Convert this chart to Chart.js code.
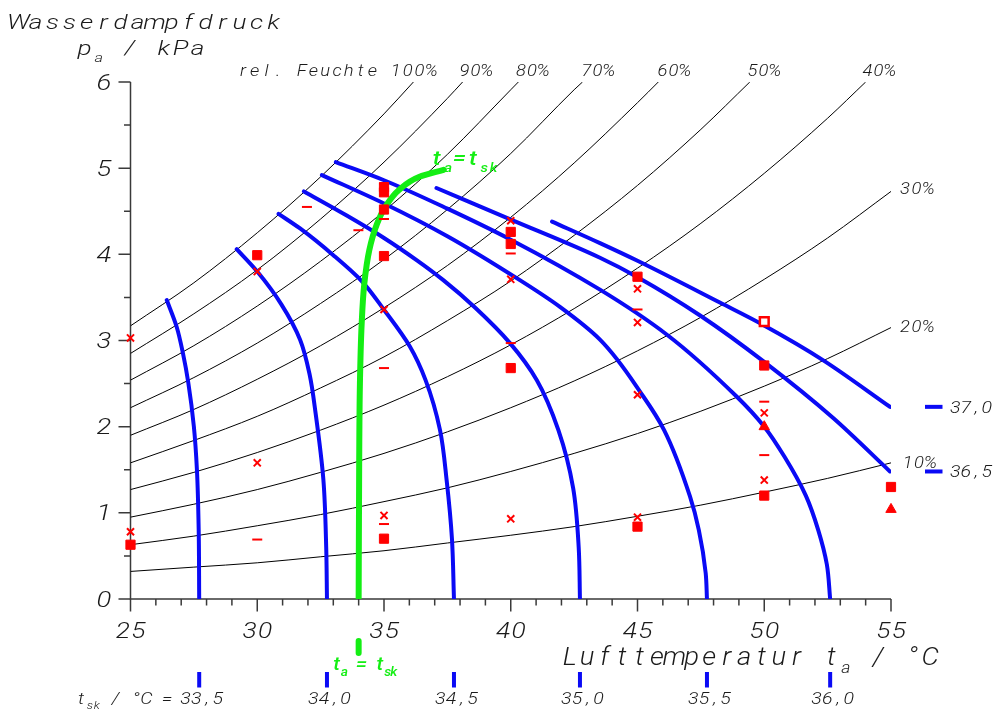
<!DOCTYPE html>
<html><head><meta charset="utf-8">
<script src="https://cdn.jsdelivr.net/npm/chart.js@4.4.1/dist/chart.umd.min.js"></script>
<style>html,body{margin:0;padding:0;background:#fff;}#wrap{width:994px;height:711px;}</style>
</head><body><div id="wrap"><canvas id="c" width="994" height="711"></canvas></div>
<script>
// ---------- relative humidity curves [t_a, p_a] ----------
const rhLabels = ['100%','90%','80%','70%','60%','50%','40%','30%','20%','10%'];
const rh100 = [[25,3.17],[27.5,3.67],[30,4.25],[32.5,4.90],[35,5.63],[36.16,6.0]];
const rh90  = [[25,2.85],[27.5,3.31],[30,3.82],[32.5,4.41],[35,5.07],[37.5,5.81],[38.1,6.0]];
const rh80  = [[25,2.54],[27.5,2.94],[30,3.40],[32.5,3.92],[35,4.50],[37.5,5.16],[40,5.91],[40.3,6.0]];
const rh70  = [[25,2.22],[27.5,2.57],[30,2.97],[32.5,3.43],[35,3.94],[37.5,4.52],[40,5.17],[42.5,5.91],[42.83,6.0]];
const rh60  = [[25,1.90],[27.5,2.20],[30,2.55],[32.5,2.94],[35,3.38],[37.5,3.87],[40,4.43],[42.5,5.06],[45,5.76],[45.82,6.0]];
const rh50  = [[25,1.58],[27.5,1.84],[30,2.12],[32.5,2.45],[35,2.81],[37.5,3.23],[40,3.69],[42.5,4.22],[45,4.80],[47.5,5.45],[49.43,6.0]];
const rh40  = [[25,1.27],[27.5,1.47],[30,1.70],[32.5,1.96],[35,2.25],[37.5,2.58],[40,2.95],[42.5,3.37],[45,3.84],[47.5,4.36],[50,4.94],[52.5,5.58],[54.0,6.0]];
const rh30  = [[25,0.95],[27.5,1.10],[30,1.27],[32.5,1.47],[35,1.69],[37.5,1.94],[40,2.22],[42.5,2.53],[45,2.88],[47.5,3.27],[50,3.71],[52.5,4.19],[55,4.73]];
const rh20  = [[25,0.63],[27.5,0.73],[30,0.85],[32.5,0.98],[35,1.13],[37.5,1.29],[40,1.48],[42.5,1.69],[45,1.92],[47.5,2.18],[50,2.47],[52.5,2.79],[55,3.15]];
const rh10  = [[25,0.32],[27.5,0.37],[30,0.42],[32.5,0.49],[35,0.56],[37.5,0.65],[40,0.74],[42.5,0.84],[45,0.96],[47.5,1.09],[50,1.24],[52.5,1.40],[55,1.58]];

// ---------- skin temperature isolines [t_a, p_a] ----------
const tskLabels = ['33,5','34,0','34,5','35,0','35,5','36,0','36,5','37,0'];
const tsk335 = [[26.43,3.47],[26.82,3.16],[27.07,2.85],[27.28,2.51],[27.50,2.00],[27.62,1.50],[27.69,0.80],[27.71,0]];
const tsk340 = [[29.19,4.06],[30.0,3.80],[30.95,3.42],[31.69,3.01],[32.07,2.60],[32.30,2.16],[32.61,1.38],[32.72,0.60],[32.75,0]];
const tsk345 = [[30.84,4.47],[31.69,4.30],[33.0,3.99],[34.12,3.69],[34.99,3.36],[36.02,2.93],[36.64,2.54],[37.21,1.96],[37.47,1.38],[37.68,0.70],[37.76,0]];
const tsk350 = [[31.84,4.73],[33.53,4.45],[35.0,4.19],[36.3,3.93],[37.34,3.70],[38.6,3.38],[39.97,2.97],[41.03,2.54],[41.88,1.96],[42.46,1.29],[42.68,0.60],[42.73,0]];
const tsk355 = [[32.55,4.92],[35.0,4.59],[37.5,4.21],[40.36,3.70],[41.94,3.39],[43.52,3.01],[45.23,2.35],[46.05,1.96],[47.07,1.19],[47.42,0.80],[47.69,0.30],[47.74,0]];
const tsk360 = [[33.1,5.07],[35.0,4.86],[37.5,4.53],[40.0,4.17],[43.52,3.59],[46.15,3.07],[48.91,2.35],[50.0,2.00],[50.80,1.65],[51.64,1.20],[52.13,0.80],[52.47,0.40],[52.6,0]];
const tsk365 = [[37.07,4.77],[40.03,4.40],[43.52,3.96],[44.97,3.74],[47.47,3.29],[49.96,2.76],[52.72,2.10],[54.96,1.48]];
const tsk370 = [[41.63,4.38],[43.52,4.13],[45.0,3.925],[48.25,3.44],[49.96,3.18],[52.33,2.77],[54.96,2.23]];

// ---------- t_a = t_sk line ----------
const equalLine = [[34.0,0],[34.02,1.5],[34.05,2.5],[34.12,3.2],[34.22,3.65],[34.42,4.05],[34.72,4.35],[35.05,4.55],[35.6,4.75],[36.4,4.9],[37.35,4.98]];

// ---------- measurements ----------
const squares = [[25,0.63],[30,3.99],[35,4.78],[35,4.72],[35,4.52],[35,3.98],[35,0.70],[40,4.26],[40,4.12],[40,2.68],[45,3.74],[45,0.84],[50,2.71],[50,1.20],[55,1.30]];
const crosses = [[25,3.03],[25,0.78],[30,3.80],[30,1.58],[35,3.36],[35,0.97],[40,4.39],[40,3.71],[40,0.93],[45,3.60],[45,3.21],[45,2.37],[45,0.95],[50,2.16],[50,1.38]];
const dashes  = [[30,0.69],[31.96,4.55],[33.99,4.28],[35,4.82],[35,4.41],[35,2.68],[35,0.87],[40,4.01],[40,2.97],[45,3.36],[50,2.29],[50,1.67]];
const triangles = [[50,2.00],[55,1.04]];
const openSquares = [[50,3.22]];

// ---------- axes ----------
const xTicks = [25,30,35,40,45,50,55];
const yTicks = [0,1,2,3,4,5,6];

const pts = a => a.map(([x,y]) => ({x, y}));
const FONT = 'Roboto';
const BLUE = '#0a0af5', GREEN = '#14ee14', RED = '#ff0000';

const datasets = [];
datasets.push({data: pts(squares), pointStyle:'rect', pointRadius:6.5, backgroundColor:RED, borderColor:RED, borderWidth:1, showLine:false, clip:false, order:0});
datasets.push({data: pts(openSquares), pointStyle:'rect', pointRadius:6.2, backgroundColor:'#ffffff', borderColor:RED, borderWidth:2.5, showLine:false, clip:false, order:0});
datasets.push({data: pts(crosses), pointStyle:'crossRot', pointRadius:5, borderColor:RED, borderWidth:2, showLine:false, clip:false, order:0});
datasets.push({data: pts(dashes), pointStyle:'line', pointRadius:5, borderColor:RED, borderWidth:2, showLine:false, clip:false, order:0});
datasets.push({data: pts(triangles), pointStyle:'triangle', pointRadius:6, backgroundColor:RED, borderColor:RED, borderWidth:1, showLine:false, clip:false, order:0});
datasets.push({data: pts(equalLine), indexAxis:'y', showLine:true, pointRadius:0, borderColor:GREEN, borderWidth:6, borderCapStyle:'round', cubicInterpolationMode:'monotone', order:1});
[tsk335,tsk340,tsk345,tsk350,tsk355,tsk360].forEach(c => datasets.push({data: pts(c), indexAxis:'y', showLine:true, pointRadius:0, borderColor:BLUE, borderWidth:4, borderCapStyle:'round', cubicInterpolationMode:'monotone', order:2}));
[tsk365,tsk370].forEach(c => datasets.push({data: pts(c), showLine:true, pointRadius:0, borderColor:BLUE, borderWidth:4, borderCapStyle:'round', cubicInterpolationMode:'monotone', order:2}));
[rh100,rh90,rh80,rh70,rh60,rh50,rh40,rh30,rh20,rh10].forEach(c => datasets.push({data: pts(c), showLine:true, pointRadius:0, borderColor:'#000000', borderWidth:1, cubicInterpolationMode:'monotone', order:3}));

// monospace-like italic text: each glyph centred in its own cell
function rich(ctx, segs, x, y, size, color, width, opts = {}) {
  const sx = opts.sx || 1.15, weight = opts.weight || 300, align = opts.align || 'left';
  const fN = `italic ${weight} ${size}px ${FONT}`;
  const fS = `italic ${weight} ${Math.round(size*0.64)}px ${FONT}`;
  const chars = [];
  segs.forEach(([t,s]) => { for (const ch of t) chars.push([ch, !!s]); });
  const units = chars.reduce((a,[ch,s]) => a + (s ? 0.68 : 1), 0);
  const pitch = width / units;
  let cx = align === 'center' ? x - width/2 : (align === 'right' ? x - width : x);
  ctx.fillStyle = color; ctx.textAlign = 'center'; ctx.textBaseline = 'alphabetic';
  chars.forEach(([ch,s]) => {
    const w = pitch * (s ? 0.68 : 1);
    ctx.save();
    ctx.translate(cx + w/2, s ? y + size*0.32 : y);
    ctx.scale(sx, 1);
    ctx.font = s ? fS : fN;
    ctx.fillText(ch, 0, 0);
    ctx.restore();
    cx += w;
  });
}

const deco = {
  id:'deco',
  beforeDatasetsDraw(chart) {
    const {ctx, scales:{x, y}} = chart;
    ctx.save();
    ctx.strokeStyle = '#3a3a3a'; ctx.lineWidth = 1.5; ctx.lineCap = 'butt';
    const x0 = x.getPixelForValue(25), x1 = x.getPixelForValue(55);
    const y0 = y.getPixelForValue(0), y1 = y.getPixelForValue(6);
    ctx.beginPath(); ctx.moveTo(x0, y1); ctx.lineTo(x0, y0); ctx.lineTo(x1, y0); ctx.stroke();
    ctx.beginPath();
    for (let v = 25; v <= 55; v++) { const px = x.getPixelForValue(v); const L = v % 5 === 0 ? 12.5 : 6.5; ctx.moveTo(px, y0); ctx.lineTo(px, y0 + L); }
    for (let v = 0; v <= 12; v++) { const py = y.getPixelForValue(v/2); const L = v % 2 === 0 ? 12 : 6.5; ctx.moveTo(x0, py); ctx.lineTo(x0 - L, py); }
    ctx.stroke();
    ctx.restore();
  },
  afterDraw(chart) {
    const {ctx, scales:{x, y}} = chart;
    ctx.save();
    const ink = '#1a1a1a';
    // tick labels from the scales
    x.ticks.forEach(t => rich(ctx, [[String(t.value)]], x.getPixelForValue(t.value), 637.5, 22, ink, 31, {align:'center', sx:1.2}));
    y.ticks.forEach(t => rich(ctx, [[String(t.value)]], 112, y.getPixelForValue(t.value) + 7.5, 22, ink, 16, {align:'right', sx:1.25}));
    rich(ctx, [['Wasserdampfdruck']], 10, 28.5, 21, ink, 272, {sx:1.25});
    rich(ctx, [['p'],['a',1],[' / kPa']], 76, 55, 21, ink, 130, {sx:1.25});
    rich(ctx, [['rel. Feuchte 100%']], 237, 75.7, 16, ink, 200);
    const topRH = [['90%',459],['80%',515.5],['70%',581],['60%',657],['50%',747],['40%',862]];
    topRH.forEach(([t,px]) => rich(ctx, [[t]], px, 75.7, 16, ink, 33));
    rich(ctx, [['30%']], 899, 194.3, 16, ink, 35);
    rich(ctx, [['20%']], 899, 331.7, 16, ink, 35);
    rich(ctx, [['10%']], 902, 468.3, 16, ink, 34);
    // right-hand labels of 36,5 / 37,0 isolines
    [[tsk370, tskLabels[7]], [tsk365, tskLabels[6]]].forEach(([c, lab]) => {
      const py = y.getPixelForValue(c[c.length-1][1]);
      ctx.strokeStyle = BLUE; ctx.lineWidth = 4; ctx.lineCap = 'butt';
      ctx.beginPath(); ctx.moveTo(925, py); ctx.lineTo(942.5, py); ctx.stroke();
      rich(ctx, [[lab]], 950, py + 6, 17, ink, 42);
    });
    rich(ctx, [['Lufttemperatur t'],['a',1],[' / °C']], 561, 665, 25, ink, 378, {sx:1.1});
    // t_sk ticks along bottom
    [tsk335,tsk340,tsk345,tsk350,tsk355,tsk360].forEach((c, i) => {
      const px = x.getPixelForValue(c[c.length-1][0]);
      ctx.strokeStyle = BLUE; ctx.lineWidth = 4; ctx.lineCap = 'butt';
      ctx.beginPath(); ctx.moveTo(px, 672); ctx.lineTo(px, 687.5); ctx.stroke();
      rich(ctx, [[tskLabels[i]]], px + 2.5, 704, 17, ink, 43, {align:'center'});
    });
    rich(ctx, [['t'],['sk',1],[' / °C =']], 76, 704, 17, ink, 96);
    // t_a = t_sk markers
    const gx = x.getPixelForValue(equalLine[0][0]);
    ctx.strokeStyle = GREEN; ctx.lineWidth = 6; ctx.lineCap = 'round';
    ctx.beginPath(); ctx.moveTo(gx, 641); ctx.lineTo(gx, 653); ctx.stroke();
    rich(ctx, [['t'],['a',1],[' = t'],['sk',1]], 332, 670, 18, GREEN, 65, {weight:500});
    rich(ctx, [['t'],['a',1],['=t'],['sk',1]], 430, 165, 21, GREEN, 68, {weight:500});
    ctx.restore();
  }
};

new Chart(document.getElementById('c'), {
  type: 'scatter',
  data: { datasets },
  options: {
    responsive: false, animation: false, devicePixelRatio: 1,
    layout: { padding: { top: 82, right: 103, left: 0, bottom: 0 } },
    plugins: { legend: { display: false }, tooltip: { enabled: false } },
    scales: {
      x: { type: 'linear', min: 25, max: 55,
        afterFit: s => { s.height = 112; },
        afterBuildTicks: s => { s.ticks = xTicks.map(v => ({value: v})); },
        border: { display: false }, grid: { display: false }, ticks: { display: false } },
      y: { type: 'linear', min: 0, max: 6,
        afterFit: s => { s.width = 130.5; },
        afterBuildTicks: s => { s.ticks = yTicks.map(v => ({value: v})); },
        border: { display: false }, grid: { display: false }, ticks: { display: false } }
    }
  },
  plugins: [deco]
});
</script></body></html>
